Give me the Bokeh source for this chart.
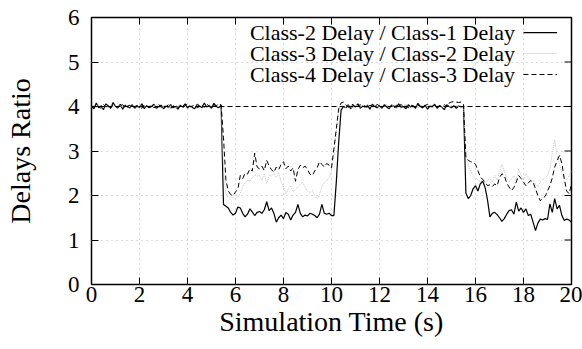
import numpy as np
from bokeh.plotting import figure
from bokeh.models import Range1d, Label, Span, FixedTicker, ColumnDataSource
from bokeh.embed import file_html
from bokeh.resources import INLINE

# ---------------- data ----------------
time_s = np.round(np.arange(201) * 0.1, 1)  # sampling grid, 0.1 s steps

class2_over_class1 = [
    4.00, 3.95, 4.08, 3.97, 4.02, 3.93, 4.06, 4.01, 3.96, 4.09,
    4.00, 3.98, 4.05, 3.94, 4.03, 3.99, 3.97, 4.04, 3.96, 4.01,
    3.98, 4.06, 3.95, 4.02, 3.97, 4.00, 4.05, 3.96, 3.99, 4.03,
    3.95, 4.01, 3.98, 4.04, 3.97, 4.00, 3.94, 4.03, 3.99, 4.06,
    3.96, 4.02, 3.98, 3.95, 4.05, 4.01, 3.97, 4.08, 3.99, 4.02,
    3.96, 4.07, 4.00, 3.97, 4.03,
    1.80, 1.76, 1.72, 1.62, 1.56, 1.60, 1.74, 1.72, 1.60, 1.52,
    1.58, 1.70, 1.63, 1.55, 1.62, 1.64, 1.60, 1.68, 1.86, 1.66,
    1.72, 1.60, 1.40, 1.50, 1.56, 1.48, 1.62, 1.58, 1.45, 1.56,
    1.62, 1.80, 1.60, 1.52, 1.56, 1.54, 1.60, 1.58, 1.55, 1.50,
    1.58, 1.80, 1.60, 1.58, 1.60, 1.55, 1.55, 2.30, 3.20, 3.92,
    4.00, 3.97, 4.04, 3.95, 4.02, 3.99, 4.06, 3.96, 4.01, 3.98,
    4.03, 3.94, 4.05, 4.00, 3.97, 4.02, 3.96, 4.04, 3.99, 3.95,
    4.03, 4.01, 3.97, 4.06, 3.98, 4.00, 3.95, 4.04, 3.99, 4.02,
    3.96, 4.07, 4.00, 3.97, 4.03, 3.94, 4.01, 3.99, 4.05, 3.96,
    4.02, 3.98, 3.93, 4.04, 4.00, 3.97, 4.02, 3.96, 4.01, 3.99,
    4.00,
    2.05, 1.93, 2.00, 2.15, 2.22, 2.10, 2.26, 2.32, 2.18, 1.90,
    1.52, 1.60, 1.62, 1.57, 1.50, 1.42, 1.48, 1.58, 1.66, 1.68,
    1.58, 1.85, 1.65, 1.72, 1.62, 1.70, 1.55, 1.58, 1.40, 1.21,
    1.38, 1.47, 1.45, 1.48, 1.46, 1.81, 1.62, 1.93, 1.70, 1.78,
    1.55, 1.44, 1.47, 1.45, 1.40,
]

class3_over_class2 = [
    3.98, 4.03, 3.96, 4.05, 4.00, 3.97, 4.02, 3.95, 4.04, 3.99,
    4.01, 3.96, 4.03, 3.98, 4.06, 4.00, 3.95, 4.02, 4.00, 3.97,
    4.04, 3.99, 4.01, 3.96, 4.03, 3.98, 4.02, 4.05, 3.97, 4.00,
    3.98, 4.04, 3.96, 4.01, 4.03, 3.97, 4.00, 4.05, 3.98, 4.01,
    3.95, 4.03, 4.00, 3.98, 4.04, 3.96, 4.02, 4.00, 3.97, 4.05,
    4.01, 3.98, 4.03, 4.00, 3.99,
    2.60, 2.05, 1.96, 1.92, 1.95, 2.00, 1.94, 2.05, 2.20, 2.28,
    2.35, 2.32, 2.41, 2.46, 2.44, 2.45, 2.34, 2.49, 2.26, 2.45,
    2.44, 2.50, 2.40, 2.52, 2.30, 2.20, 2.04, 2.15, 2.22, 2.08,
    2.12, 2.20, 2.26, 2.30, 2.18, 2.10, 2.07, 2.12, 2.00, 1.93,
    2.02, 2.20, 2.28, 2.34, 2.40, 2.55, 2.90, 3.40, 3.90, 4.00,
    4.02, 3.97, 4.03, 3.99, 3.95, 4.04, 4.00, 3.98, 4.02, 3.96,
    4.05, 4.01, 3.97, 4.03, 3.99, 4.02, 3.96, 4.00, 4.04, 3.98,
    4.01, 4.03, 3.97, 4.00, 3.95, 4.02, 4.05, 3.99, 4.01, 3.97,
    4.03, 3.98, 4.00, 4.04, 3.96, 4.02, 3.99, 4.01, 3.97, 4.03,
    4.00, 3.98, 4.05, 4.01, 3.99, 4.02, 3.97, 4.03, 4.00, 4.02,
    4.00,
    2.90, 2.70, 2.55, 2.45, 2.40, 2.35, 2.30, 2.38, 2.28, 2.32,
    2.40, 2.30, 2.45, 2.35, 2.52, 2.70, 2.55, 2.40, 2.30, 2.38,
    2.45, 2.35, 2.60, 2.45, 2.35, 2.50, 2.40, 2.30, 2.35, 2.25,
    2.20, 2.30, 2.35, 2.40, 2.45, 2.60, 2.95, 3.25, 2.90, 2.70,
    2.50, 2.40, 2.35, 2.45, 2.55,
]

class4_over_class3 = [
    4.02, 3.98, 4.03, 4.00, 3.96, 4.04, 3.99, 4.01, 3.97, 4.05,
    4.00, 3.96, 4.02, 4.04, 3.98, 4.01, 4.03, 3.97, 4.00, 4.02,
    3.99, 3.96, 4.04, 4.01, 3.98, 4.03, 3.97, 4.00, 4.05, 3.98,
    4.02, 3.99, 4.04, 3.96, 4.01, 4.03, 3.98, 4.00, 3.97, 4.02,
    4.05, 3.99, 4.01, 4.04, 3.97, 4.00, 4.03, 3.98, 4.06, 4.01,
    3.98, 4.04, 4.02, 4.06, 4.04,
    3.30, 2.35, 2.10, 2.02, 2.00, 2.08, 2.15, 2.45, 2.38, 2.50,
    2.48, 2.60, 2.55, 2.95, 2.64, 2.60, 2.66, 2.56, 2.79, 2.67,
    2.58, 2.52, 2.64, 2.58, 2.70, 2.76, 2.60, 2.66, 2.55, 2.62,
    2.32, 2.58, 2.68, 2.62, 2.66, 2.58, 2.48, 2.45, 2.55, 2.62,
    2.76, 2.70, 2.64, 2.72, 2.68, 2.62, 3.05, 3.50, 3.95, 4.08,
    4.10, 4.03, 3.98, 4.02, 4.05, 3.97, 4.01, 4.04, 3.99, 4.02,
    3.96, 4.03, 4.00, 3.98, 4.05, 4.01, 3.97, 4.02, 4.04, 3.99,
    4.01, 3.96, 4.03, 4.00, 4.05, 3.98, 4.02, 3.97, 4.04, 4.00,
    3.99, 4.03, 4.01, 3.96, 4.02, 4.05, 3.99, 4.01, 4.03, 3.98,
    4.02, 4.00, 4.04, 3.99, 4.08, 4.10, 4.11, 4.10, 4.09, 4.10,
    4.05,
    2.85, 2.79, 2.76, 2.74, 2.70, 2.56, 2.42, 2.36, 2.30, 2.22,
    2.24, 2.20, 2.26, 2.22, 2.40, 2.49, 2.45, 2.28, 2.19, 2.11,
    2.18, 2.30, 2.45, 2.38, 2.30, 2.22, 2.28, 2.34, 2.30, 2.15,
    2.00, 1.88, 1.94, 1.98, 2.10, 2.22, 2.40, 2.64, 2.78, 2.90,
    2.72, 2.37, 2.10, 2.04, 2.25,
]

reference_ratio = 4.0

series_labels = [
    "Class-2 Delay / Class-1 Delay",
    "Class-3 Delay / Class-2 Delay",
    "Class-4 Delay / Class-3 Delay",
]
x_ticks = [0, 2, 4, 6, 8, 10, 12, 14, 16, 18, 20]
y_ticks = [0, 1, 2, 3, 4, 5, 6]
x_title = "Simulation Time (s)"
y_title = "Delays Ratio"

# ---------------- styles ----------------
FONT = "Liberation Serif"
styles = [
    dict(line_color="black", line_width=1.2, line_dash="solid"),
    dict(line_color="#c4c4c4", line_width=1.0, line_dash="1 1"),
    dict(line_color="black", line_width=1.0, line_dash="5 3"),
]

X0, X1, Y0, Y1 = 0, 20, 0, 6
FRAME_W, FRAME_H = 480, 267
p = figure(width=582, height=349, x_range=Range1d(X0, X1), y_range=Range1d(Y0, Y1),
           output_backend="svg", toolbar_location=None,
           min_border_left=91, min_border_right=11, min_border_top=17, min_border_bottom=65)
p.background_fill_color = "white"
p.border_fill_color = "white"
p.outline_line_color = "black"
p.outline_line_width = 1.5

p.xaxis.ticker = FixedTicker(ticks=x_ticks)
p.yaxis.ticker = FixedTicker(ticks=y_ticks)
p.xaxis.axis_label = x_title
p.yaxis.axis_label = y_title
p.axis.axis_line_color = None
p.axis.major_tick_in = 7
p.axis.major_tick_out = 0
p.axis.major_tick_line_color = "black"
p.axis.minor_tick_line_color = None
p.axis.major_label_text_font = FONT
p.axis.major_label_text_font_size = "23px"
p.axis.major_label_text_color = "black"
p.axis.axis_label_text_font = FONT
p.axis.axis_label_text_font_size = "28px"
p.axis.axis_label_text_font_style = "normal"
p.axis.axis_label_text_color = "black"
p.xaxis.major_label_standoff = 2
p.xaxis.axis_label_standoff = 1
p.yaxis.major_label_standoff = 12
p.yaxis.axis_label_standoff = 29

p.xgrid.ticker = FixedTicker(ticks=x_ticks)
p.ygrid.ticker = FixedTicker(ticks=y_ticks)
p.grid.grid_line_color = "#b8b8b8"
p.grid.grid_line_dash = "1 4"
p.grid.grid_line_width = 1

# mirrored inward ticks on top and right edges (7 px long)
tick_len_y = 7 * (Y1 - Y0) / FRAME_H
tick_len_x = 7 * (X1 - X0) / FRAME_W
p.segment(x0=x_ticks, y0=[Y1] * len(x_ticks), x1=x_ticks, y1=[Y1 - tick_len_y] * len(x_ticks),
          line_color="black", line_width=1)
p.segment(x0=[X1] * len(y_ticks), y0=y_ticks, x1=[X1 - tick_len_x] * len(y_ticks), y1=y_ticks,
          line_color="black", line_width=1)

p.add_layout(Span(location=reference_ratio, dimension="width", line_color="black",
                  line_width=1.0, line_dash="5 3"))

src = ColumnDataSource(dict(t=time_s, a=class2_over_class1, b=class3_over_class2,
                            c=class4_over_class3))
for col, st in zip(["a", "b", "c"], styles):
    p.line("t", col, source=src, **st)

# legend (text right-aligned, sample to the right) in data coordinates
leg_text_x = 17.65
leg_line_x = [18.0, 19.4]
leg_rows_y = [5.66, 5.19, 4.72]
for lab, st, yy in zip(series_labels, styles, leg_rows_y):
    p.add_layout(Label(x=leg_text_x, y=yy, text=lab, text_align="right",
                       text_baseline="middle", text_font=FONT,
                       text_font_size="22px", text_color="black"))
    p.line(leg_line_x, [yy, yy], **st)

open("out.html", "w").write(file_html(p, INLINE))
